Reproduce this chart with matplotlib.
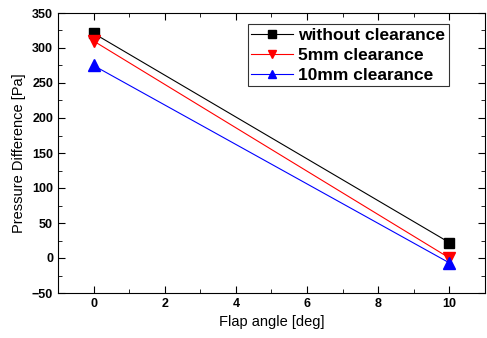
import matplotlib
matplotlib.use('Agg')
import matplotlib.pyplot as plt
from matplotlib.ticker import MultipleLocator

plt.rcParams['font.family'] = ['Liberation Sans', 'DejaVu Sans']

angle = [0, 10]
without_clearance = [321, 22]
clearance_5mm = [310, 0]
clearance_10mm = [275, -7]

fig = plt.figure(figsize=(4.87, 3.38), dpi=100)
ax = fig.add_axes([58 / 487, 1 - 293 / 338, (485 - 58) / 487, (293 - 13) / 338])

ax.plot(angle, without_clearance, color='black', marker='s', markersize=7, lw=0.8,
        label='without clearance')
ax.plot(angle, clearance_5mm, color='red', marker='v', markersize=8, lw=0.8,
        label='5mm clearance')
ax.plot(angle, clearance_10mm, color='blue', marker='^', markersize=8, lw=0.8,
        label='10mm clearance')

ax.set_xlim(-1, 11)
ax.set_ylim(-50, 350)
ax.xaxis.set_major_locator(MultipleLocator(2))
ax.xaxis.set_minor_locator(MultipleLocator(1))
ax.yaxis.set_major_locator(MultipleLocator(50))
ax.yaxis.set_minor_locator(MultipleLocator(25))
ax.tick_params(which='both', direction='in', top=True, right=True, labelsize=9)
ax.tick_params(which='major', length=5)
ax.tick_params(which='minor', length=3)
for lab in ax.get_xticklabels() + ax.get_yticklabels():
    lab.set_fontweight('bold')

ax.set_xlabel('Flap angle [deg]', fontsize=10.5)
ax.set_ylabel('Pressure Difference [Pa]', fontsize=10.5)

leg = ax.legend(loc='upper right', bbox_to_anchor=(0.915, 0.96), fancybox=False,
                edgecolor='black', prop={'weight': 'bold', 'size': 12.5},
                handlelength=2.4, borderpad=0.2, labelspacing=0.28, handletextpad=0.3,
                borderaxespad=0, markerscale=0.8)
leg.get_frame().set_linewidth(0.8)

fig.savefig('out.png', dpi=100)
